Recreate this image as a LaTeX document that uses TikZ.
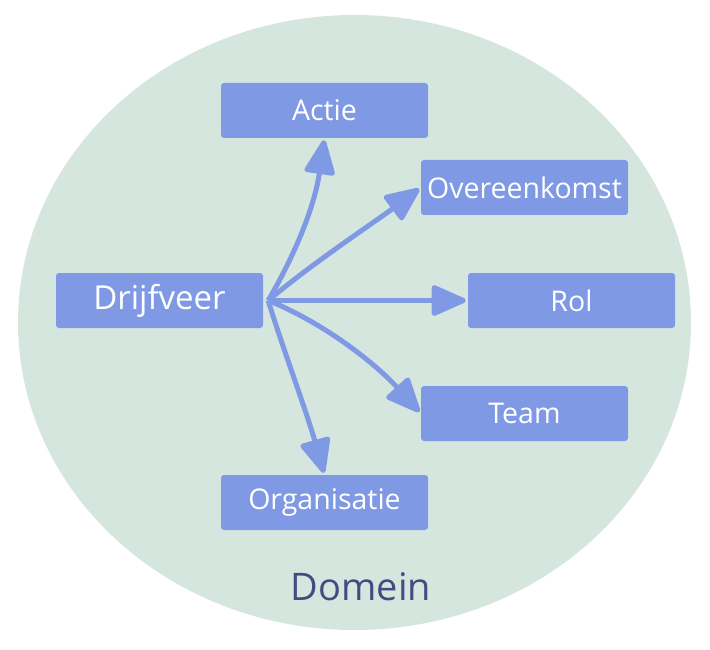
\documentclass[tikz,border=0pt]{standalone}
\usepackage{fontspec}
\setmainfont{Open Sans}
\usepackage{xcolor}
\usetikzlibrary{arrows.meta}

\definecolor{domeingroen}{RGB}{213,230,223}
\definecolor{boxblauw}{RGB}{127,153,229}
\definecolor{domeintekst}{RGB}{69,74,128}

\tikzset{
  box/.style={fill=boxblauw, rounded corners=3pt, minimum width=207pt, minimum height=55pt, inner sep=0pt, text=white, font=\fontsize{28.5}{34}\selectfont},
  pijl/.style={draw=boxblauw, line width=5pt, shorten >=2pt, -{Triangle[length=38pt, width=32pt, round]}}
}

\begin{document}
\begin{tikzpicture}[x=1pt,y=1pt,yscale=-1,xscale=1]
        \useasboundingbox (0,0) rectangle (710,650);

        %Shape: Ellipse [domein]
        \fill [domeingroen] (354.5,322.5) ellipse [x radius=336.5, y radius=307.5];
        % Text Node
        \node [anchor=base, text=domeintekst, font=\fontsize{38}{45}\selectfont] (domein) at (361,600) {Domein};

        %Shape: Rectangle [boxes]
        \node [box, font=\fontsize{33}{39}\selectfont] (drijf) at (159.5,300.5) {Drijfveer};
        \node [box] (actie) at (324.5,110.5) {Actie};
        \node [box] (overeen) at (524.5,187.5) {Overeenkomst};
        \node [box] (rol) at (571.5,300.5) {Rol};
        \node [box] (team) at (524.5,413.5) {Team};
        \node [box] (org) at (324.5,502.5) {Organisatie};

        %Curve Lines [arrows]
        \coordinate (bron) at ([xshift=5pt]drijf.east);
        \draw [pijl] (bron) .. controls (292,260) and (314,210) .. (actie.south);
        \draw [pijl] (bron) .. controls (314,262) and (372,224) .. (overeen.west);
        \draw [pijl] (bron) -- (rol.west);
        \draw [pijl] (bron) .. controls (322,322) and (374,362) .. (team.west);
        \draw [pijl] (bron) .. controls (280,340) and (306,410) .. (org.north);

\end{tikzpicture}
\end{document}
